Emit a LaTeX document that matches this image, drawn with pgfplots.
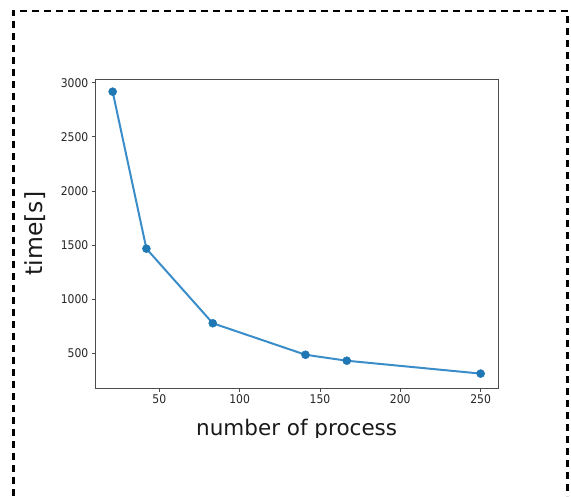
\documentclass[border=0pt]{standalone}
\usepackage{fontspec}
\setmainfont{DejaVu Sans}
\newfontfamily\condfont{DejaVu Sans Condensed}
\usepackage{pgfplots}
\pgfplotsset{compat=1.18}
\definecolor{mplblue}{HTML}{1F77B4}
\definecolor{mplline}{HTML}{3A8DC8}
\begin{document}
\begin{tikzpicture}
\begin{axis}[
  name=ax,
  scale only axis, width=402.7pt, height=309pt,
  xmin=10.2, xmax=260.8, ymin=180, ymax=3034,
  xtick={50,100,150,200,250},
  ytick={500,1000,1500,2000,2500,3000},
  tick align=outside, tick pos=left,
  major tick length=3.5pt,
  axis line style={black!70, line width=0.8pt},
  every tick/.style={black!70, line width=0.8pt},
  tick label style={font=\condfont\fontsize{12}{12}\selectfont, text=black!85},
  /pgf/number format/assume math mode=true,
  /pgf/number format/set thousands separator={},
  xlabel={number of process},
  ylabel={time[s]},
  xlabel style={font=\fontsize{21.5}{22}\selectfont, text=black!90, at={(axis description cs:0.5,-0.1553)}, anchor=base},
  ylabel style={font=\fontsize{23.5}{24}\selectfont, text=black!90, at={(axis description cs:-0.1497,0.5)}, anchor=center},
]
\addplot[mplline, line width=2pt, mark=*, mark size=4pt, mark options={mplblue, fill=mplblue, draw=mplblue, line width=0.5pt}]
coordinates {(21,2917) (42,1467) (83.3,778) (141,487) (166.7,432) (250,313)};
\end{axis}
\begin{scope}[shift={(ax.south west)}, x=1pt, y=1pt]
\fill[white] (-95.3,-50) rectangle (475.7,-60);
\path[use as bounding box] (-95.3,-108) rectangle (475.7,388);
\draw[black, line width=2.2pt, dash pattern=on 7pt off 5pt] (-81.8,-108) -- (-81.8,377) -- (472.2,377) -- (472.2,-108);
\end{scope}
\end{tikzpicture}
\end{document}
